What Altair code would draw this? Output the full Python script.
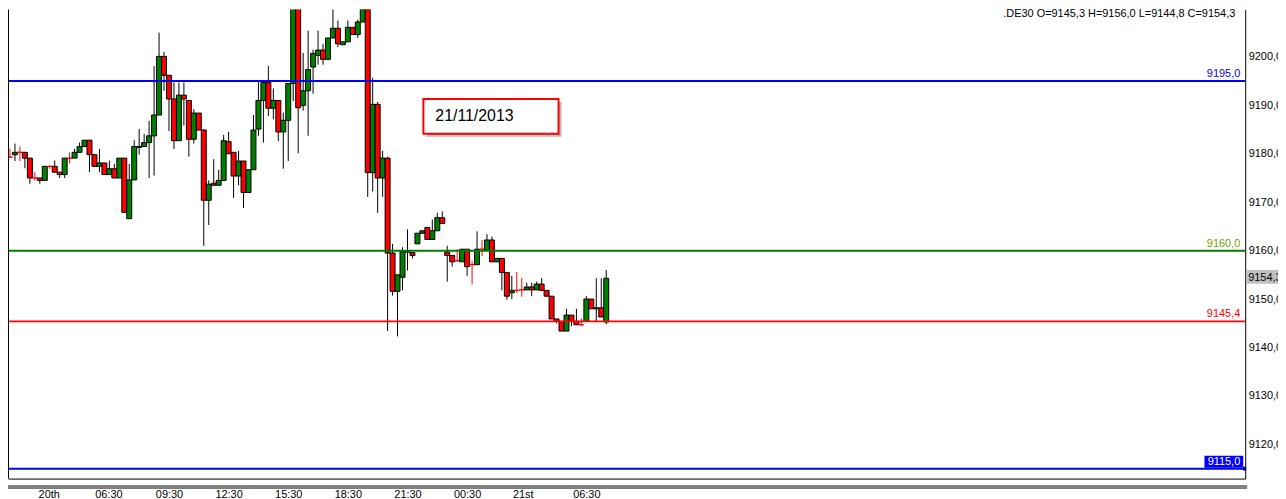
import json
import altair as alt
import pandas as pd

# ---------------- data ----------------
opens = [9179.3, 9179.8, 9180.3, 9180.3, 9179.1, 9175.0, 9175.0, 9174.5, 9177.4, 9177.4,
         9176.2, 9175.7, 9179.1, 9179.1, 9180.3, 9181.5, 9182.8, 9179.8, 9177.4, 9178.1,
         9175.7, 9176.9, 9175.0, 9179.1, 9166.6, 9174.6, 9181.3, 9181.5, 9182.3, 9183.7,
         9188.0, 9200.1, 9196.2, 9191.3, 9182.7, 9192.1, 9191.0, 9183.0, 9188.4, 9184.9,
         9170.4, 9173.9, 9173.5, 9174.5, 9182.5, 9180.3, 9175.4, 9178.5, 9172.0, 9176.7,
         9185.1, 9191.0, 9194.7, 9189.4, 9191.0, 9184.5, 9186.9, 9194.5, 9213.5, 9190.0,
         9193.0, 9197.9, 9200.3, 9201.4, 9199.5, 9203.9, 9205.9, 9202.5, 9203.1, 9206.1,
         9204.6, 9207.2, 9209.9, 9176.1, 9190.2, 9175.0, 9179.1, 9159.5, 9151.6, 9154.5,
         9159.7, 9159.6, 9161.4, 9163.6, 9164.8, 9162.3, 9164.1, 9166.8, 9159.7, 9159.0,
         9157.9, 9157.7, 9160.3, 9157.1, 9157.1, 9160.3, 9160.1, 9162.2, 9157.7, 9158.4,
         9155.5, 9151.3, 9151.8, 9151.9, 9151.9, 9152.5, 9151.9, 9153.1, 9151.8, 9150.6,
         9145.9, 9145.4, 9143.4, 9146.7, 9145.4, 9144.7, 9145.4, 9150.0, 9148.0, 9148.2,
         9145.3]
highs = [9181.0, 9182.1, 9181.5, 9180.3, 9179.1, 9176.2, 9175.0, 9177.4, 9177.6, 9178.6,
         9176.2, 9179.1, 9180.3, 9181.0, 9182.3, 9182.8, 9182.8, 9179.8, 9181.0, 9178.1,
         9178.6, 9177.9, 9179.1, 9179.1, 9177.9, 9182.8, 9185.1, 9184.1, 9186.8, 9198.1,
         9205.0, 9201.0, 9196.2, 9194.7, 9194.7, 9194.7, 9191.0, 9189.2, 9188.4, 9185.1,
         9174.5, 9178.9, 9176.7, 9183.9, 9184.5, 9180.3, 9180.6, 9178.5, 9176.7, 9188.0,
         9194.8, 9194.7, 9198.1, 9193.5, 9191.0, 9188.5, 9194.5, 9214.5, 9214.0, 9200.8,
         9205.4, 9201.5, 9205.4, 9202.7, 9203.9, 9210.6, 9207.5, 9203.1, 9207.5, 9206.1,
         9207.7, 9210.6, 9210.3, 9195.7, 9190.7, 9180.6, 9179.4, 9161.4, 9155.0, 9160.7,
         9164.4, 9159.6, 9163.6, 9164.1, 9164.8, 9166.4, 9167.8, 9168.1, 9161.0, 9159.0,
         9160.3, 9160.3, 9160.3, 9157.9, 9164.0, 9162.2, 9163.4, 9162.9, 9158.4, 9158.4,
         9155.5, 9154.8, 9155.6, 9154.4, 9153.4, 9153.4, 9153.6, 9154.3, 9151.8, 9150.6,
         9145.9, 9145.4, 9148.0, 9146.7, 9148.0, 9146.0, 9150.6, 9150.0, 9154.3, 9154.3,
         9156.0]
lows = [9179.3, 9178.5, 9178.5, 9177.0, 9173.8, 9174.5, 9173.8, 9174.5, 9176.9, 9176.2,
        9175.0, 9175.0, 9178.0, 9179.1, 9180.3, 9181.5, 9176.2, 9177.4, 9176.2, 9175.7,
        9175.7, 9175.0, 9175.0, 9167.9, 9166.6, 9174.6, 9179.8, 9181.5, 9175.0, 9175.5,
        9188.0, 9193.0, 9184.7, 9181.0, 9182.7, 9185.8, 9179.4, 9182.1, 9184.9, 9161.0,
        9165.3, 9173.5, 9173.5, 9174.5, 9180.0, 9170.9, 9173.5, 9168.8, 9172.0, 9176.7,
        9183.7, 9182.3, 9187.8, 9187.1, 9182.6, 9176.9, 9178.5, 9190.9, 9180.1, 9188.9,
        9183.7, 9192.4, 9198.4, 9198.4, 9199.3, 9203.9, 9202.0, 9202.5, 9203.1, 9204.6,
        9203.9, 9207.2, 9171.1, 9172.2, 9167.8, 9171.1, 9143.4, 9150.7, 9142.3, 9151.8,
        9155.9, 9158.4, 9161.4, 9163.6, 9162.3, 9162.3, 9164.1, 9165.6, 9153.6, 9156.7,
        9157.9, 9157.7, 9154.8, 9153.0, 9157.1, 9158.9, 9160.1, 9157.7, 9157.7, 9151.8,
        9149.9, 9150.0, 9151.3, 9150.5, 9151.9, 9150.6, 9151.9, 9151.8, 9150.6, 9145.9,
        9145.0, 9143.4, 9143.4, 9144.4, 9144.7, 9144.5, 9145.4, 9148.0, 9145.4, 9146.3,
        9144.8]
closes = [9179.3, 9180.3, 9180.3, 9179.1, 9175.0, 9175.0, 9174.5, 9177.4, 9177.4, 9176.2,
          9175.7, 9179.1, 9179.1, 9180.3, 9181.5, 9182.8, 9179.8, 9177.4, 9178.1, 9175.7,
          9176.9, 9175.0, 9179.1, 9167.9, 9174.6, 9181.5, 9181.5, 9182.3, 9183.7, 9188.0,
          9200.1, 9196.2, 9191.3, 9182.7, 9192.1, 9191.3, 9183.0, 9188.4, 9184.9, 9170.4,
          9173.7, 9173.5, 9174.5, 9182.7, 9180.0, 9175.4, 9178.5, 9172.0, 9176.7, 9184.9,
          9191.0, 9194.7, 9189.4, 9191.0, 9184.5, 9186.9, 9194.5, 9213.5, 9189.5, 9193.0,
          9197.4, 9200.7, 9201.4, 9199.5, 9203.9, 9205.9, 9202.7, 9203.1, 9206.1, 9204.6,
          9207.2, 9209.9, 9176.1, 9190.2, 9175.0, 9179.1, 9159.5, 9151.6, 9155.0, 9159.8,
          9159.8, 9159.0, 9163.6, 9164.1, 9162.3, 9164.1, 9166.8, 9165.6, 9159.0, 9157.7,
          9157.9, 9160.3, 9156.7, 9157.1, 9160.3, 9160.3, 9162.2, 9157.7, 9158.4, 9155.5,
          9150.6, 9151.8, 9151.8, 9151.9, 9152.5, 9151.9, 9153.1, 9151.8, 9150.6, 9145.9,
          9145.4, 9143.4, 9146.7, 9145.4, 9144.7, 9144.7, 9150.0, 9148.0, 9148.2, 9146.3,
          9154.3]

levels = [9195.0, 9160.0, 9145.4, 9115.0]
level_labels = ["9195,0", "9160,0", "9145,4", "9115,0"]
level_colors = ["#0000FF", "#008000", "#FF0000", "#0000FF"]
level_text_colors = ["#0000FF", "#7A9A00", "#FF0000", "#FFFFFF"]

x_tick_pos = [7.8, 19.8, 32.0, 44.0, 56.0, 68.0, 80.0, 92.0, 103.2, 116.0]
x_tick_labels = ["20th", "06:30", "09:30", "12:30", "15:30", "18:30", "21:30", "00:30", "21st", "06:30"]
y_ticks = [9120, 9130, 9140, 9150, 9160, 9170, 9180, 9190, 9200]

header = ".DE30 O=9145,3 H=9156,0 L=9144,8 C=9154,3"
last_price = 9154.3
last_label = "9154,3"
date_note = "21/11/2013"

# ---------------- tables ----------------
df = pd.DataFrame({"i": list(range(len(opens))), "open": opens, "high": highs,
                   "low": lows, "close": closes})
df["body"] = ["#008000" if c > o else "#FF0000" for o, c in zip(opens, closes)]
df["edge"] = ["#FF0000" if c == o else "#000000" for o, c in zip(opens, closes)]

lv = pd.DataFrame({"level": levels, "label": level_labels, "lc": level_colors,
                   "tc": level_text_colors})
one = pd.DataFrame({"k": [0]})

W, H = 1245, 472
FONT = "Liberation Sans"

xs = alt.Scale(domain=[-0.4, 248.6], nice=False, zero=False)
ys = alt.Scale(domain=[9112.95, 9209.77], nice=False, zero=False)

x_label_expr = "{}[indexof({}, datum.value)]".format(json.dumps(x_tick_labels), json.dumps(x_tick_pos))
x_axis = alt.Axis(orient="bottom", values=x_tick_pos, labelExpr=x_label_expr, ticks=False,
                  grid=False, domainColor="black", domainWidth=1, labelColor="black",
                  labelFont=FONT, labelFontSize=11, labelPadding=10, labelOverlap=False,
                  labelFlush=False, title=None)
y_axis = alt.Axis(orient="right", values=y_ticks,
                  labelExpr="replace(format(datum.value, '.1f'), '.', ',')",
                  ticks=False, grid=False, domainColor="black", domainWidth=1,
                  labelColor="black", labelFont=FONT, labelFontSize=11, labelPadding=3,
                  title=None)

X = alt.X("i:Q", scale=xs, axis=x_axis)

base = alt.Chart(df)

wicks = base.mark_rule(strokeWidth=1, clip=True).encode(
    x=X,
    y=alt.Y("high:Q", scale=ys, axis=y_axis),
    y2="low:Q",
    color=alt.Color("edge:N", scale=None),
)

bodies = base.transform_calculate(
    x1="datum.i - 0.5", x2="datum.i + 0.5"
).mark_rect(strokeWidth=1, clip=True).encode(
    x=alt.X("x1:Q", scale=xs, axis=x_axis),
    x2="x2:Q",
    y=alt.Y("open:Q", scale=ys, axis=y_axis),
    y2="close:Q",
    fill=alt.Color("body:N", scale=None),
    stroke=alt.Color("edge:N", scale=None),
)

lines = alt.Chart(lv).mark_rule(strokeWidth=2).encode(
    y=alt.Y("level:Q", scale=ys, axis=y_axis),
    color=alt.Color("lc:N", scale=None),
)

box_9115 = alt.Chart(one).mark_rect(color="#0000FF").encode(
    x=alt.value(1204), x2=alt.value(1243), y=alt.value(449), y2=alt.value(461)
)
mark_9115 = alt.Chart(one).mark_rect(color="#000080").encode(
    x=alt.value(1243), x2=alt.value(1246), y=alt.value(460), y2=alt.value(464)
)

level_text = alt.Chart(lv).mark_text(align="right", baseline="bottom", dy=-2,
                                      font=FONT, fontSize=11).encode(
    x=alt.value(1240),
    y=alt.Y("level:Q", scale=ys, axis=y_axis),
    text="label:N",
    color=alt.Color("tc:N", scale=None),
)

last_box = alt.Chart(one).mark_rect(color="#C0C0C0").encode(
    x=alt.value(1246), x2=alt.value(1290), y=alt.value(262), y2=alt.value(276)
)
last_text = alt.Chart(pd.DataFrame({"p": [last_price], "t": [last_label]})).mark_text(
    align="left", baseline="middle", font=FONT, fontSize=11, color="black", dx=2
).encode(
    x=alt.value(1246),
    y=alt.Y("p:Q", scale=ys, axis=y_axis),
    text="t:N",
)

header_text = alt.Chart(one).mark_text(align="right", baseline="middle", font=FONT,
                                       fontSize=11, color="black", text=header).encode(
    x=alt.value(1235), y=alt.value(5)
)

note_shadow = alt.Chart(one).mark_rect(color="#808080", opacity=0.55).encode(
    x=alt.value(421), x2=alt.value(557), y=alt.value(93), y2=alt.value(128)
)
note_box = alt.Chart(one).mark_rect(fill="white", stroke="#FF0000", strokeWidth=2).encode(
    x=alt.value(418), x2=alt.value(554), y=alt.value(90), y2=alt.value(125)
)
note_text = alt.Chart(one).mark_text(align="left", baseline="middle", font=FONT,
                                     fontSize=16, color="black", text=date_note).encode(
    x=alt.value(430), y=alt.value(107.5)
)

left_border = alt.Chart(one).mark_rule(color="black", strokeWidth=1).encode(
    x=alt.value(0.5), y=alt.value(0), y2=alt.value(H)
)
sep1 = alt.Chart(one).mark_rule(color="black", strokeWidth=1).encode(
    x=alt.value(0), x2=alt.value(W + 2), y=alt.value(479.5)
)
sep2 = alt.Chart(one).mark_rule(color="black", strokeWidth=1).encode(
    x=alt.value(0), x2=alt.value(W + 2), y=alt.value(481.5)
)

chart = alt.layer(
    wicks, bodies, lines, box_9115, mark_9115, level_text, last_box, last_text, header_text,
    note_shadow, note_box, note_text, left_border, sep1, sep2
).properties(
    width=W, height=H,
    autosize=alt.AutoSizeParams(type="none"),
    padding={"left": 0, "top": 0, "right": 33, "bottom": 19},
    background="white",
).configure_view(strokeWidth=0)

chart.save("out.html", embed_options={"renderer": "svg", "actions": False})
